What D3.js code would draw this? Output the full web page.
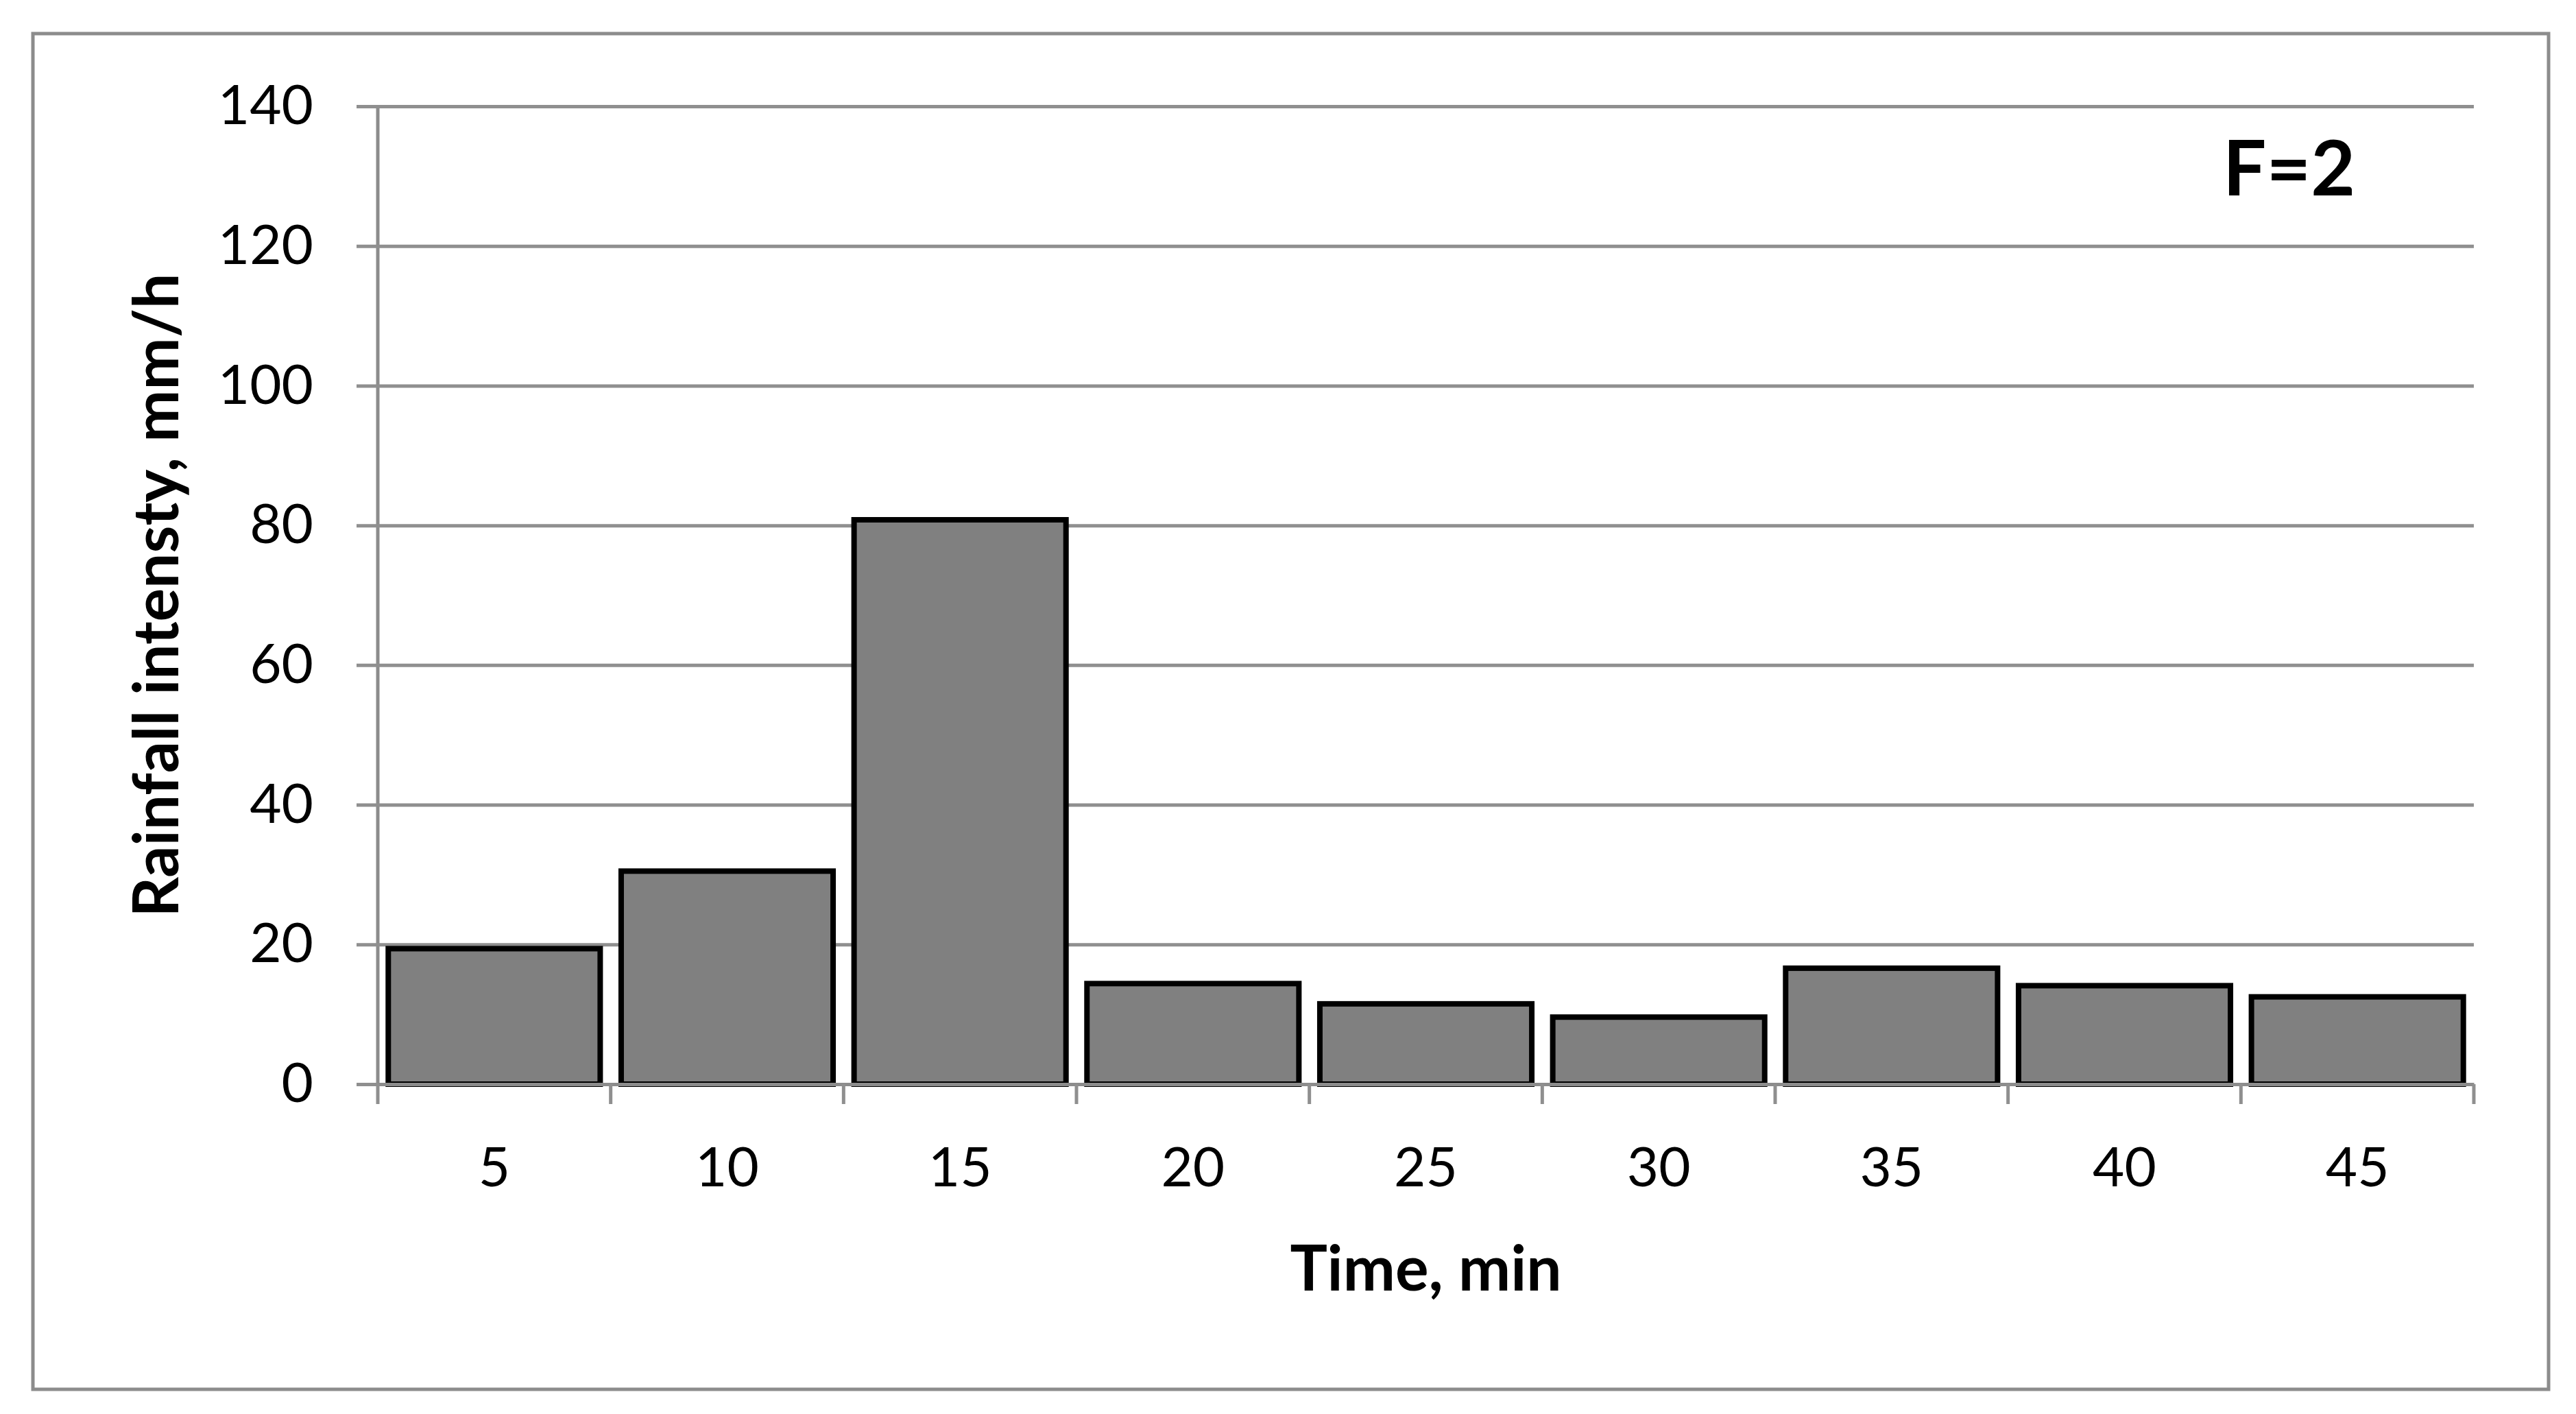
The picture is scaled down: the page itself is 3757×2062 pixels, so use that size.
<!DOCTYPE html>
<html>
<head>
<meta charset="utf-8">
<script src="https://cdn.jsdelivr.net/npm/d3@7"></script>
<style>
	body { margin: 0; background: #fff; }
	svg { display: block; }
	svg text { font-family: Lato, "Open Sans", sans-serif; }
</style>
</head>
<body>
<svg id="chart"></svg>
<script>
// chart data
var times = [5, 10, 15, 20, 25, 30, 35, 40, 45];
var intensity = [19.4, 30.5, 80.8, 14.4, 11.5, 9.6, 16.6, 14.1, 12.5];
var yTicks = [0, 20, 40, 60, 80, 100, 120, 140];

var W = 3757, H = 2062;
var margin = {left: 551, right: 149, top: 155, bottom: 481};
var width = W - margin.left - margin.right;
var height = H - margin.top - margin.bottom;

var svg = d3.select('#chart')
	.attr('width', W)
	.attr('height', H);

//outer frame
svg.append('rect')
	.attr('x', 48)
	.attr('y', 49)
	.attr('width', 3669)
	.attr('height', 1977)
	.attr('fill', '#fff')
	.attr('stroke', '#8c8c8c')
	.attr('stroke-width', 5);

var g = svg.append('g')
	.attr('transform', 'translate(' + margin.left + ',' + margin.top + ')');

var x = d3.scaleBand()
	.domain(times)
	.range([0, width])
	.paddingInner(0.09)
	.paddingOuter(0.045);

var y = d3.scaleLinear()
	.domain([0, 140])
	.range([height, 0]);

//y axis with gridlines
var yAxis = g.append('g')
	.classed('yAxis', true)
	.call(d3.axisLeft(y)
		.tickValues(yTicks)
		.tickSize(-width)
		.tickPadding(94));

yAxis.attr('font-family', null);

yAxis.select('.domain')
	.attr('stroke', '#8c8c8c')
	.attr('stroke-width', 5)
	.attr('d', 'M0,' + height + 'V0');

yAxis.selectAll('.tick line')
	.attr('x1', -31)
	.attr('stroke', '#8f8f8f')
	.attr('stroke-width', 5);

yAxis.selectAll('text')
	.style('font-size', '80px')
	.attr('fill', '#000');

//bars
g.selectAll('.bar')
	.data(intensity)
	.enter()
	.append('rect')
	.classed('bar', true)
	.attr('x', (d, i) => x(times[i]))
	.attr('y', d => y(d))
	.attr('width', x.bandwidth())
	.attr('height', d => y(0) - y(d))
	.attr('fill', '#808080')
	.attr('stroke', '#000')
	.attr('stroke-width', 8);

//x axis
var xAxis = g.append('g')
	.classed('xAxis', true)
	.attr('transform', 'translate(0,' + height + ')')
	.call(d3.axisBottom(x)
		.tickSize(0)
		.tickPadding(92));

xAxis.attr('font-family', null);

xAxis.select('.domain')
	.attr('stroke', '#8c8c8c')
	.attr('stroke-width', 5);

xAxis.selectAll('text')
	.style('font-size', '80px')
	.attr('fill', '#000');

//tick marks between categories
xAxis.selectAll('.sep')
	.data(d3.range(times.length + 1))
	.enter()
	.append('line')
	.classed('sep', true)
	.attr('x1', i => i * x.step())
	.attr('x2', i => i * x.step())
	.attr('y1', 0)
	.attr('y2', 29)
	.attr('stroke', '#8f8f8f')
	.attr('stroke-width', 5);

//axis titles
svg.append('text')
	.attr('transform', 'translate(260,' + (margin.top + height / 2) + ') rotate(-90)')
	.attr('text-anchor', 'middle')
	.style('font-size', '91px')
	.style('font-weight', 'bold')
	.text('Rainfall intensty, mm/h');

svg.append('text')
	.attr('x', margin.left + width / 2)
	.attr('y', 1882)
	.attr('text-anchor', 'middle')
	.style('font-size', '91px')
	.style('font-weight', 'bold')
	.text('Time, min');

svg.append('text')
	.attr('x', 3242)
	.attr('y', 285)
	.style('font-size', '112px')
	.style('font-weight', 'bold')
	.text('F=2');
</script>
</body>
</html>
